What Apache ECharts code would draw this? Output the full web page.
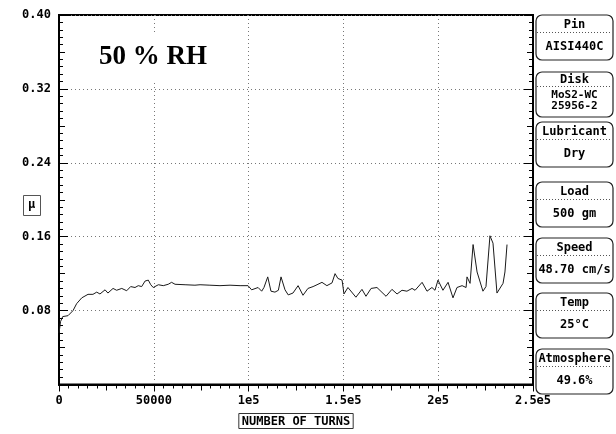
<!DOCTYPE html>
<html>
<head>
<meta charset="utf-8">
<script src="https://cdn.jsdelivr.net/npm/echarts@6/dist/echarts.min.js"></script>
<style>
html,body{margin:0;padding:0;background:#fff;}
#c{width:616px;height:434px;}
</style>
</head>
<body>
<div id="c"></div>
<script>
// ---- data ----
var turns = [0, 300, 800, 1950, 4750, 7400, 9300, 12000, 15300, 16350, 17900, 19900, 21600, 24300, 25800, 28500, 30400, 33100, 35700, 37800, 40100, 41800, 43600, 45400, 47100, 48400, 49700, 52400, 55000, 57600, 59400, 61200, 66500, 71700, 72600, 74400, 79600, 84900, 90200, 95500, 99700, 101600, 105000, 106900, 108100, 110100, 111800, 113900, 115700, 117100, 119200, 120900, 123400, 126100, 128700, 131300, 134000, 136100, 138700, 141300, 144000, 145600, 147100, 149300, 150300, 152400, 156600, 159800, 161900, 164600, 167700, 172500, 175600, 178300, 180900, 183500, 186200, 187800, 191500, 194100, 196700, 198300, 199900, 202500, 205200, 207800, 209900, 212600, 214700, 215200, 216800, 218400, 220500, 223600, 225200, 227300, 228900, 231000, 234200, 235200, 236300];
var mu = [0.056, 0.060, 0.068, 0.0735, 0.0745, 0.080, 0.0875, 0.0938, 0.0976, 0.099, 0.0976, 0.100, 0.098, 0.1025, 0.099, 0.104, 0.102, 0.104, 0.1015, 0.106, 0.105, 0.107, 0.106, 0.112, 0.113, 0.108, 0.105, 0.108, 0.107, 0.1085, 0.1106, 0.1085, 0.108, 0.1075, 0.1095, 0.108, 0.1075, 0.107, 0.1075, 0.107, 0.107, 0.1025, 0.105, 0.101, 0.105, 0.1165, 0.101, 0.100, 0.102, 0.1165, 0.1025, 0.097, 0.099, 0.107, 0.0966, 0.104, 0.106, 0.108, 0.1106, 0.107, 0.110, 0.120, 0.1148, 0.113, 0.098, 0.105, 0.0945, 0.103, 0.0955, 0.104, 0.105, 0.0955, 0.103, 0.098, 0.102, 0.101, 0.104, 0.102, 0.1106, 0.101, 0.105, 0.102, 0.113, 0.102, 0.1106, 0.0938, 0.105, 0.107, 0.105, 0.1165, 0.1095, 0.1515, 0.1218, 0.101, 0.106, 0.161, 0.153, 0.099, 0.1095, 0.1218, 0.1515];
var xTickLabels = ['0', '50000', '1e5', '1.5e5', '2e5', '2.5e5'];
var yTickLabels = ['', '0.08', '0.16', '0.24', '0.32', '0.40'];
var infoTitles = ['Pin', 'Disk', 'Lubricant', 'Load', 'Speed', 'Temp', 'Atmosphere'];
var infoValues = [['AISI440C'], ['MoS2-WC', '25956-2'], ['Dry'], ['500 gm'], ['48.70 cm/s'], ['25\u00b0C'], ['49.6%']];
var annotation = '50 % RH';
var xName = 'NUMBER OF TURNS';
var yName = '\u03bc';

var seriesData = turns.map(function (t, i) { return [t, mu[i]]; });

var mono = '"DejaVu Sans Mono", monospace';
var L = 59, R = 533, T = 15, B = 396;

function xAxisCfg(interval, tickLen, withLabels, minor) {
  return {
    type: 'value', min: 0, max: 250000, interval: interval, position: 'bottom',
    axisLine: { show: withLabels, lineStyle: { color: '#000', width: 2 } },
    axisTick: { show: true, inside: false, length: tickLen, lineStyle: { color: '#000', width: 1 } },
    minorTick: { show: !!minor, splitNumber: 10, length: 4, lineStyle: { color: '#000', width: 1 } },
    axisLabel: withLabels ? {
      show: true, margin: 10, color: '#000', fontFamily: mono, fontWeight: 'bold', fontSize: 12,
      showMinLabel: true, showMaxLabel: true,
      formatter: function (v) { return xTickLabels[Math.round(v / 50000)] || ''; }
    } : { show: false },
    splitLine: withLabels ? { show: true, lineStyle: { color: '#777', type: [1, 3], width: 1 } } : { show: false },
    name: withLabels ? xName : '',
    nameLocation: 'middle', nameGap: 29,
    nameTextStyle: withLabels ? { color: '#000', fontFamily: mono, fontWeight: 'bold', fontSize: 12,
      borderColor: '#333', borderWidth: 1, padding: [2, 3, 1, 3] } : {}
  };
}
function yAxisCfg(pos, interval, tickLen, withLabels, minor, grid) {
  return {
    type: 'value', min: 0, max: 0.4, interval: interval, position: pos,
    axisLine: { show: true, onZero: false, lineStyle: { color: '#000', width: 2 } },
    axisTick: { show: true, inside: true, length: tickLen, lineStyle: { color: '#000', width: 1 } },
    minorTick: { show: !!minor, splitNumber: 10, length: 4, lineStyle: { color: '#000', width: 1 } },
    axisLabel: withLabels ? {
      show: true, margin: 8, color: '#000', fontFamily: mono, fontWeight: 'bold', fontSize: 12,
      showMinLabel: true, showMaxLabel: true,
      formatter: function (v) { return yTickLabels[Math.round(v / 0.08)] || ''; }
    } : { show: false },
    splitLine: grid ? { show: true, lineStyle: { color: '#777', type: [1, 3], width: 1 } } : { show: false }
  };
}

var graphics = [];
// annotation box
graphics.push({ type: 'rect', left: 80, top: 32, shape: { width: 168, height: 48 }, style: { fill: '#fff' }, z: 50 });
graphics.push({ type: 'text', x: 153, y: 57, z: 51, style: { text: annotation, fill: '#000', font: 'bold 27px "Liberation Serif", "Times New Roman", serif', align: 'center', verticalAlign: 'middle' } });
// mu label box
graphics.push({ type: 'rect', left: 23, top: 195, shape: { width: 17, height: 20 }, style: { fill: '#fff', stroke: '#555', lineWidth: 1 }, z: 50 });
graphics.push({ type: 'text', x: 31.5, y: 205, z: 51, style: { text: yName, fill: '#000', font: 'bold 12px ' + mono, align: 'center', verticalAlign: 'middle' } });

// info panel
var boxTops = [15, 72, 122, 182, 238, 293, 349];
var bx = 536, bw = 77, bh = 45, cx = bx + bw / 2;
infoTitles.forEach(function (t, i) {
  var top = boxTops[i];
  var vals = infoValues[i];
  var two = vals.length > 1;
  graphics.push({ type: 'rect', shape: { x: bx, y: top, width: bw, height: bh, r: 6 }, style: { fill: '#fff', stroke: '#222', lineWidth: 1.2 }, z: 50 });
  graphics.push({ type: 'text', x: cx, y: top + (two ? 8 : 10), z: 51, style: { text: t, fill: '#000', font: 'bold 12px ' + mono, align: 'center', verticalAlign: 'middle' } });
  var ly = top + (two ? 14.5 : 17.5);
  graphics.push({ type: 'line', shape: { x1: bx + 1, y1: ly, x2: bx + bw - 1, y2: ly }, style: { stroke: '#555', lineWidth: 1, lineDash: [1, 2] }, z: 51 });
  if (!two) {
    graphics.push({ type: 'text', x: cx, y: top + 32, z: 51, style: { text: vals[0], fill: '#000', font: 'bold 12px ' + mono, align: 'center', verticalAlign: 'middle' } });
  } else {
    graphics.push({ type: 'text', x: cx, y: top + 23, z: 51, style: { text: vals[0], fill: '#000', font: 'bold 11px ' + mono, align: 'center', verticalAlign: 'middle' } });
    graphics.push({ type: 'text', x: cx, y: top + 34, z: 51, style: { text: vals[1], fill: '#000', font: 'bold 11px ' + mono, align: 'center', verticalAlign: 'middle' } });
  }
});

var chart = echarts.init(document.getElementById('c'), null, { renderer: 'canvas' });
chart.setOption({
  animation: false,
  backgroundColor: '#fff',
  grid: { left: L, right: 616 - R, top: T, bottom: 434 - B, show: true, borderColor: '#000', borderWidth: 2, backgroundColor: 'transparent' },
  xAxis: [
    xAxisCfg(50000, 7, true, true),
    xAxisCfg(25000, 6, false, false)
  ],
  yAxis: [
    yAxisCfg('left', 0.08, 9, true, true, true),
    yAxisCfg('left', 0.04, 6, false, false, false),
    yAxisCfg('right', 0.08, 9, false, true, false),
    yAxisCfg('right', 0.04, 6, false, false, false)
  ],
  series: [{
    type: 'line', data: seriesData, xAxisIndex: 0, yAxisIndex: 0,
    showSymbol: false, symbol: 'none', smooth: false,
    lineStyle: { color: '#1a1a1a', width: 1 }
  }],
  graphic: graphics
});
</script>
</body>
</html>
